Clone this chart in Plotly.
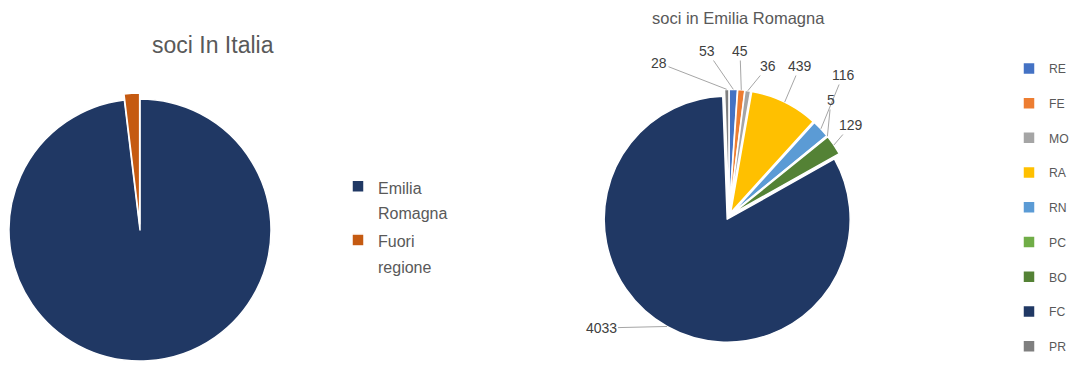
import math
import plotly.graph_objects as go

# Left pie: soci In Italia
italia_labels = ["Emilia Romagna", "Fuori regione"]
italia_values = [4884, 95]
italia_colors = ["#203864", "#C55A11"]

# Right pie: soci in Emilia Romagna
er_labels = ["RE", "FE", "MO", "RA", "RN", "PC", "BO", "FC", "PR"]
er_values = [53, 45, 36, 439, 116, 5, 129, 4033, 28]
er_colors = ["#4472C4", "#ED7D31", "#A5A5A5", "#FFC000", "#5B9BD5",
             "#70AD47", "#548235", "#203864", "#7F7F7F"]

# data-label placement (pixel positions of the value labels, styling only)
er_label_pos = [(707, 51), (740, 51), (768, 66), (800, 66), (843, 75),
                (831, 100), (851, 125), (601, 328), (659, 63)]

W, H = 1071, 367
GRAY = "#595959"
FONT = "Liberation Sans"


def domain_for(cx, cy, r, pull):
    half = r * (1 + pull)
    return dict(x=[(cx - half) / W, (cx + half) / W],
                y=[max(0.0, 1 - (cy + half) / H), 1 - (cy - half) / H])


def legend_label(label, size):
    return "<br>".join(f"<span style='font-size:{size}px'>{p}</span>" for p in label.split(" "))


L_PULL, R_PULL = 0.045, 0.03
L_C, L_R = (140, 230), 131
R_C, R_R = (729, 216), 123

fig = go.Figure()
fig.add_trace(go.Pie(
    labels=[legend_label(l, 16) for l in italia_labels], values=italia_values,
    marker=dict(colors=italia_colors, line=dict(color="white", width=1.5)),
    sort=False, direction="clockwise", rotation=0, pull=[0, L_PULL],
    textinfo="none", domain=domain_for(*L_C, L_R, L_PULL), legend="legend",
))
fig.add_trace(go.Pie(
    labels=[f"{l}<br> " for l in er_labels], values=er_values,
    marker=dict(colors=er_colors, line=dict(color="white", width=1.5)),
    sort=False, direction="clockwise", rotation=0, pull=[R_PULL] * len(er_values),
    textinfo="none", domain=domain_for(*R_C, R_R, R_PULL), legend="legend2",
))

# value labels with leader lines, anchored on each slice's outer edge
annotations = []
total = sum(er_values)
cum = 0
for v, (lx, ly) in zip(er_values, er_label_pos):
    mid = (cum + v / 2) / total * 2 * math.pi
    cum += v
    rr = R_R * (1 + R_PULL)
    tx = R_C[0] + rr * math.sin(mid)
    ty = R_C[1] - rr * math.cos(mid)
    annotations.append(dict(
        text=str(v), x=tx / W, y=1 - ty / H, xref="paper", yref="paper",
        ax=lx - tx, ay=ly - ty, axref="pixel", ayref="pixel",
        showarrow=True, arrowhead=0, arrowwidth=1, arrowcolor="#A6A6A6", standoff=0,
        font=dict(size=14, color="#404040", family=FONT),
    ))

annotations += [
    dict(text="soci In Italia", x=213 / W, y=1 - 45 / H, xref="paper", yref="paper",
         xanchor="center", yanchor="middle", showarrow=False,
         font=dict(size=23, color=GRAY, family=FONT)),
    dict(text="soci in Emilia Romagna", x=738.5 / W, y=1 - 18 / H, xref="paper", yref="paper",
         xanchor="center", yanchor="middle", showarrow=False,
         font=dict(size=16.5, color=GRAY, family=FONT)),
]

fig.update_layout(
    width=W, height=H, margin=dict(l=0, r=0, t=0, b=0, autoexpand=False),
    paper_bgcolor="white", font=dict(family=FONT, color=GRAY),
    legend=dict(x=338 / W, y=1 - 167 / H, xanchor="left", yanchor="top",
                font=dict(size=19.5, color=GRAY, family=FONT), valign="top"),
    legend2=dict(x=1009 / W, y=1 - 54 / H, xanchor="left", yanchor="top",
                 font=dict(size=12.2, color=GRAY, family=FONT), valign="top"),
    annotations=annotations,
)
fig.write_html("out.html")
